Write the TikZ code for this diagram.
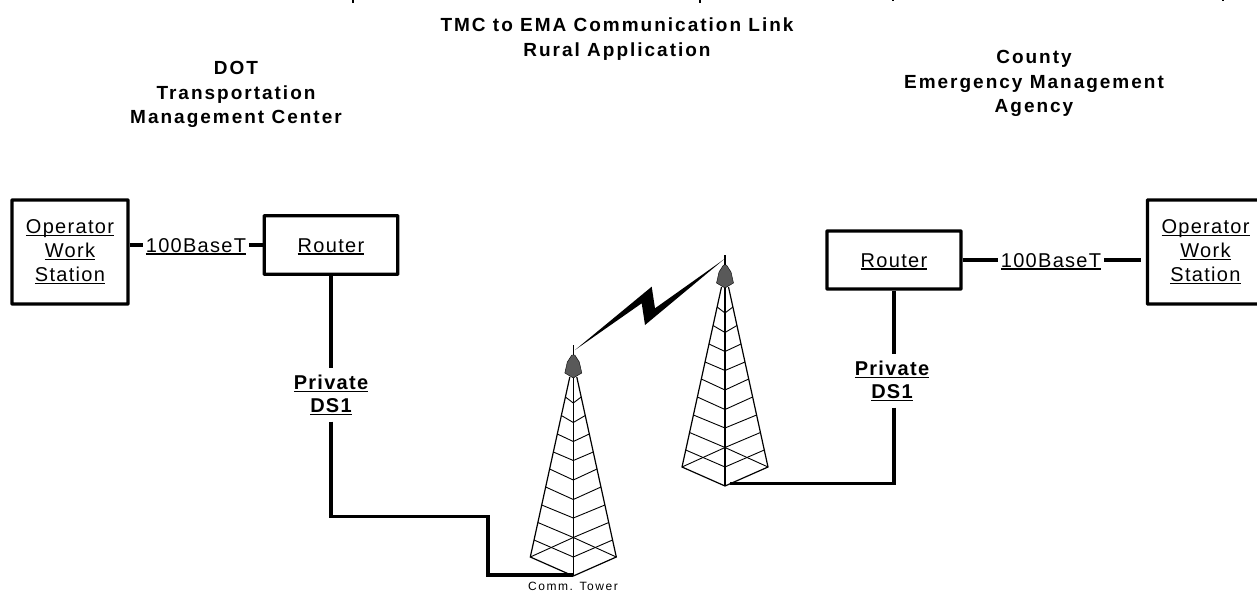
\documentclass[tikz,border=0pt]{standalone}
\usepackage{fontspec}
\setmainfont{Liberation Sans}
\newfontfamily\headfont[LetterSpace=10.5]{Liberation Sans Bold}
\newfontfamily\linkfont[LetterSpace=6.5]{Liberation Sans Bold}
\newfontfamily\boxfont[LetterSpace=6.5]{Liberation Sans}
\newfontfamily\tinyfont[LetterSpace=13]{Liberation Sans}
\newcommand{\ultext}[1]{\setbox0\hbox{#1}\leavevmode\rlap{\rule[-2.4pt]{\wd0}{1.2pt}}\box0}
\usetikzlibrary{positioning}
\tikzset{
  box/.style={draw, line width=3.4pt, rounded corners=0.5pt, inner sep=0pt},
  wire/.style={line width=3.4pt},
  boxtext/.style={font=\boxfont\fontsize{20}{24}\selectfont, align=center, inner sep=0pt},
  headtext/.style={font=\headfont\fontsize{19}{24.5}\selectfont, align=center, inner sep=0pt},
  linktext/.style={font=\linkfont\fontsize{20}{23}\selectfont, align=center, inner sep=0pt, minimum height=53pt},
  towerline/.style={line width=1.2pt},
  rungline/.style={line width=0.9pt}
}
\begin{document}
\begin{tikzpicture}[x=1pt,y=-1pt]
    \useasboundingbox (0,0) rectangle (1257,591);
    \clip (0,0) rectangle (1257,591);

    % Titles
    \foreach \x/\h in {353/3, 700/3, 893/1.5, 1223/1.5} {
      \fill (\x-1,0) rectangle (\x+1,\h);
    }
    \node[headtext] (title) at (617,39) {TMC to EMA Communication Link\\Rural Application};
    \node[headtext] (dot) at (236,94.5) {DOT\\Transportation\\Management Center};
    \node[headtext] (county) at (1034,83.5) {County\\Emergency Management\\Agency};

    % Left side
    \node[box, minimum width=116pt, minimum height=104pt] (opleft) at (70,252) {};
    \node[boxtext] at (opleft) {\ultext{Operator}\\\ultext{Work}\\\ultext{Station}};
    \node[box, minimum width=133.5pt, minimum height=58.5pt] (routerleft) at (331,245) {};
    \node[boxtext] at (331,246.5) {\ultext{Router}};
    \node[boxtext, inner xsep=3pt] (baseleft) at (196,246.5) {\ultext{100BaseT}};
    \node[linktext] (dsleft) at (331,395) {\ultext{Private}\\\ultext{DS1}};

    % Right side
    \node[box, minimum width=134pt, minimum height=58pt] (routerright) at (894,260) {};
    \node[boxtext] at (894,261.5) {\ultext{Router}};
    \node[box, minimum width=116pt, minimum height=104pt] (opright) at (1205.5,252) {};
    \node[boxtext] at (opright) {\ultext{Operator}\\\ultext{Work}\\\ultext{Station}};
    \node[boxtext, inner xsep=3pt] (baseright) at (1051,261.5) {\ultext{100BaseT}};
    \node[linktext] (dsright) at (892,381) {\ultext{Private}\\\ultext{DS1}};

    % Towers
    \foreach \tx/\ty/\nm in {573.3/576/towerleft, 725/486/towerright} {
      \begin{scope}[shift={(\tx,\ty)}]
        \coordinate (\nm) at (0,0);
        \draw[towerline] (-3.5,-199) -- (-43,-19) -- (0,0) -- (43,-19) -- (3.5,-199);
        \draw[towerline] (0,-231) -- (0,0);
        % Rungs of the tower
        \foreach \s/\c in {-179/-173, -160.5/-153.5, -142/-134.5, -124/-115.5, -107/-96, -89/-76.5, -71/-58, -53.5/-38.5, -36/-19} {
          \pgfmathsetmacro{\w}{3.5+(\s+199)*39.5/180}
          \draw[rungline] (-\w,\s) -- (0,\c) -- (\w,\s);
        }
        \draw[rungline] (-43,-19) -- (0,-38.5) -- (43,-19);
        \filldraw[fill=black!65, draw=black, line width=0.4pt] (-1.5,-221) -- (1.5,-221) -- (6,-214) -- (8.5,-203) -- (0,-198) -- (-8.5,-203) -- (-6,-214) -- cycle;
      \end{scope}
    }
    \node[font=\tinyfont\fontsize{12}{14}\selectfont, inner sep=0pt] (commtower) at (573,586) {Comm. Tower};

    % Lightning
    \fill (575,350) -- (651.7,286.7) -- (655,308.3) -- (724,259.3) -- (645,325) -- (641.7,303.3) -- cycle;

    % Links
    \draw[wire] (opleft.east |- routerleft) -- (baseleft.west |- routerleft);
    \draw[wire] (baseleft.east |- routerleft) -- (routerleft.west);
    \draw[wire] (routerleft.south) -- (dsleft.north);
    \draw[wire] (dsleft.south) -- (331,516.5) -- (488,516.5) -- (488,575) -- (573.3,575);
    \draw[wire] (routerright.east) -- (baseright.west |- routerright);
    \draw[wire, shorten >=5pt] (baseright.east |- routerright) -- (opright.west |- routerright);
    \draw[wire] (routerright.south) -- (routerright.south |- dsright.north);
    \draw[wire] (routerright.south |- dsright.south) -- (894,483.5) -- (730,483.5);
\end{tikzpicture}
\end{document}
